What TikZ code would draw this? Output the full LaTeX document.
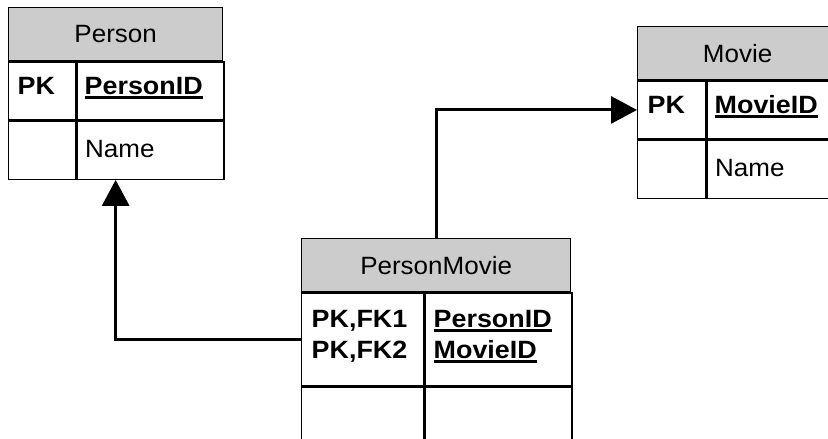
\documentclass[tikz,border=0pt]{standalone}
\usepackage{fontspec}
\setmainfont{Liberation Sans}[FakeStretch=1.04,BoldFeatures={FakeStretch=1.075}]
\usetikzlibrary{arrows.meta}
\definecolor{hdrgray}{RGB}{204,204,204}
% underlined key attribute
\newcommand\keyul[1]{\setbox0\hbox{#1}\rlap{\rule[-4.5pt]{\wd0}{2.2pt}}\box0}

\begin{document}
\begin{tikzpicture}[x=1pt,y=-1pt,
  every node/.style={inner sep=0pt, font=\fontsize{25}{31}\selectfont},
  hdr/.style={draw, line width=1.3pt, fill=hdrgray, anchor=north west, minimum height=53pt},
  cell/.style={draw, line width=1.3pt, fill=white, anchor=north west},
  lbl/.style={anchor=base west},
  conn/.style={line width=3pt, -{Triangle[length=26pt,width=27pt]}}]
\useasboundingbox (0,0) rectangle (828,439);

% Person table
\node[hdr, minimum width=214pt] (person-h) at (8,7) {Person};
\node[cell, minimum width=67pt, minimum height=58pt] (person-k1) at (person-h.south west) {};
\node[cell, minimum width=147pt, minimum height=58pt] (person-a1) at (person-k1.north east) {};
\node[cell, minimum width=67pt, minimum height=58pt] (person-k2) at (person-k1.south west) {};
\node[cell, minimum width=147pt, minimum height=58pt] (person-a2) at (person-k2.north east) {};
\node[lbl] (person-pk) at (17.5,94) {\bfseries PK};
\node[lbl] (person-id) at (84.5,94) {\bfseries\keyul{PersonID}};
\node[lbl] (person-name) at (85,157) {Name};

% Movie table
\node[hdr, minimum width=200pt] (movie-h) at (637,26) {Movie};
\node[cell, minimum width=68pt, minimum height=58pt] (movie-k1) at (movie-h.south west) {};
\node[cell, minimum width=132pt, minimum height=58pt] (movie-a1) at (movie-k1.north east) {};
\node[cell, minimum width=68pt, minimum height=58pt] (movie-k2) at (movie-k1.south west) {};
\node[cell, minimum width=132pt, minimum height=58pt] (movie-a2) at (movie-k2.north east) {};
\node[lbl] (movie-pk) at (647.5,113) {\bfseries PK};
\node[lbl] (movie-id) at (714.5,113) {\bfseries\keyul{MovieID}};
\node[lbl] (movie-name) at (715,176) {Name};

% PersonMovie link table
\node[hdr, minimum width=269pt] (pm-h) at (301,238) {PersonMovie};
\node[cell, minimum width=122pt, minimum height=93pt] (pm-k1) at (pm-h.south west) {};
\node[cell, minimum width=147pt, minimum height=93pt] (pm-a1) at (pm-k1.north east) {};
\node[cell, minimum width=122pt, minimum height=58pt] (pm-k2) at (pm-k1.south west) {};
\node[cell, minimum width=147pt, minimum height=58pt] (pm-a2) at (pm-k2.north east) {};
\node[lbl] (pm-fk1) at (311.5,327) {\bfseries PK,FK1};
\node[lbl] (pm-fk2) at (311.5,358) {\bfseries PK,FK2};
\node[lbl] (pm-pid) at (433.5,327) {\bfseries\keyul{PersonID}};
\node[lbl] (pm-mid) at (433.5,358) {\bfseries\keyul{MovieID}};

% foreign key references
\coordinate (person-bot) at (person-h.center |- person-k2.south);
\draw[conn] (pm-k1.west) -| (person-bot);
\draw[conn] (pm-h.north) |- (movie-k1.west);
\end{tikzpicture}
\end{document}
